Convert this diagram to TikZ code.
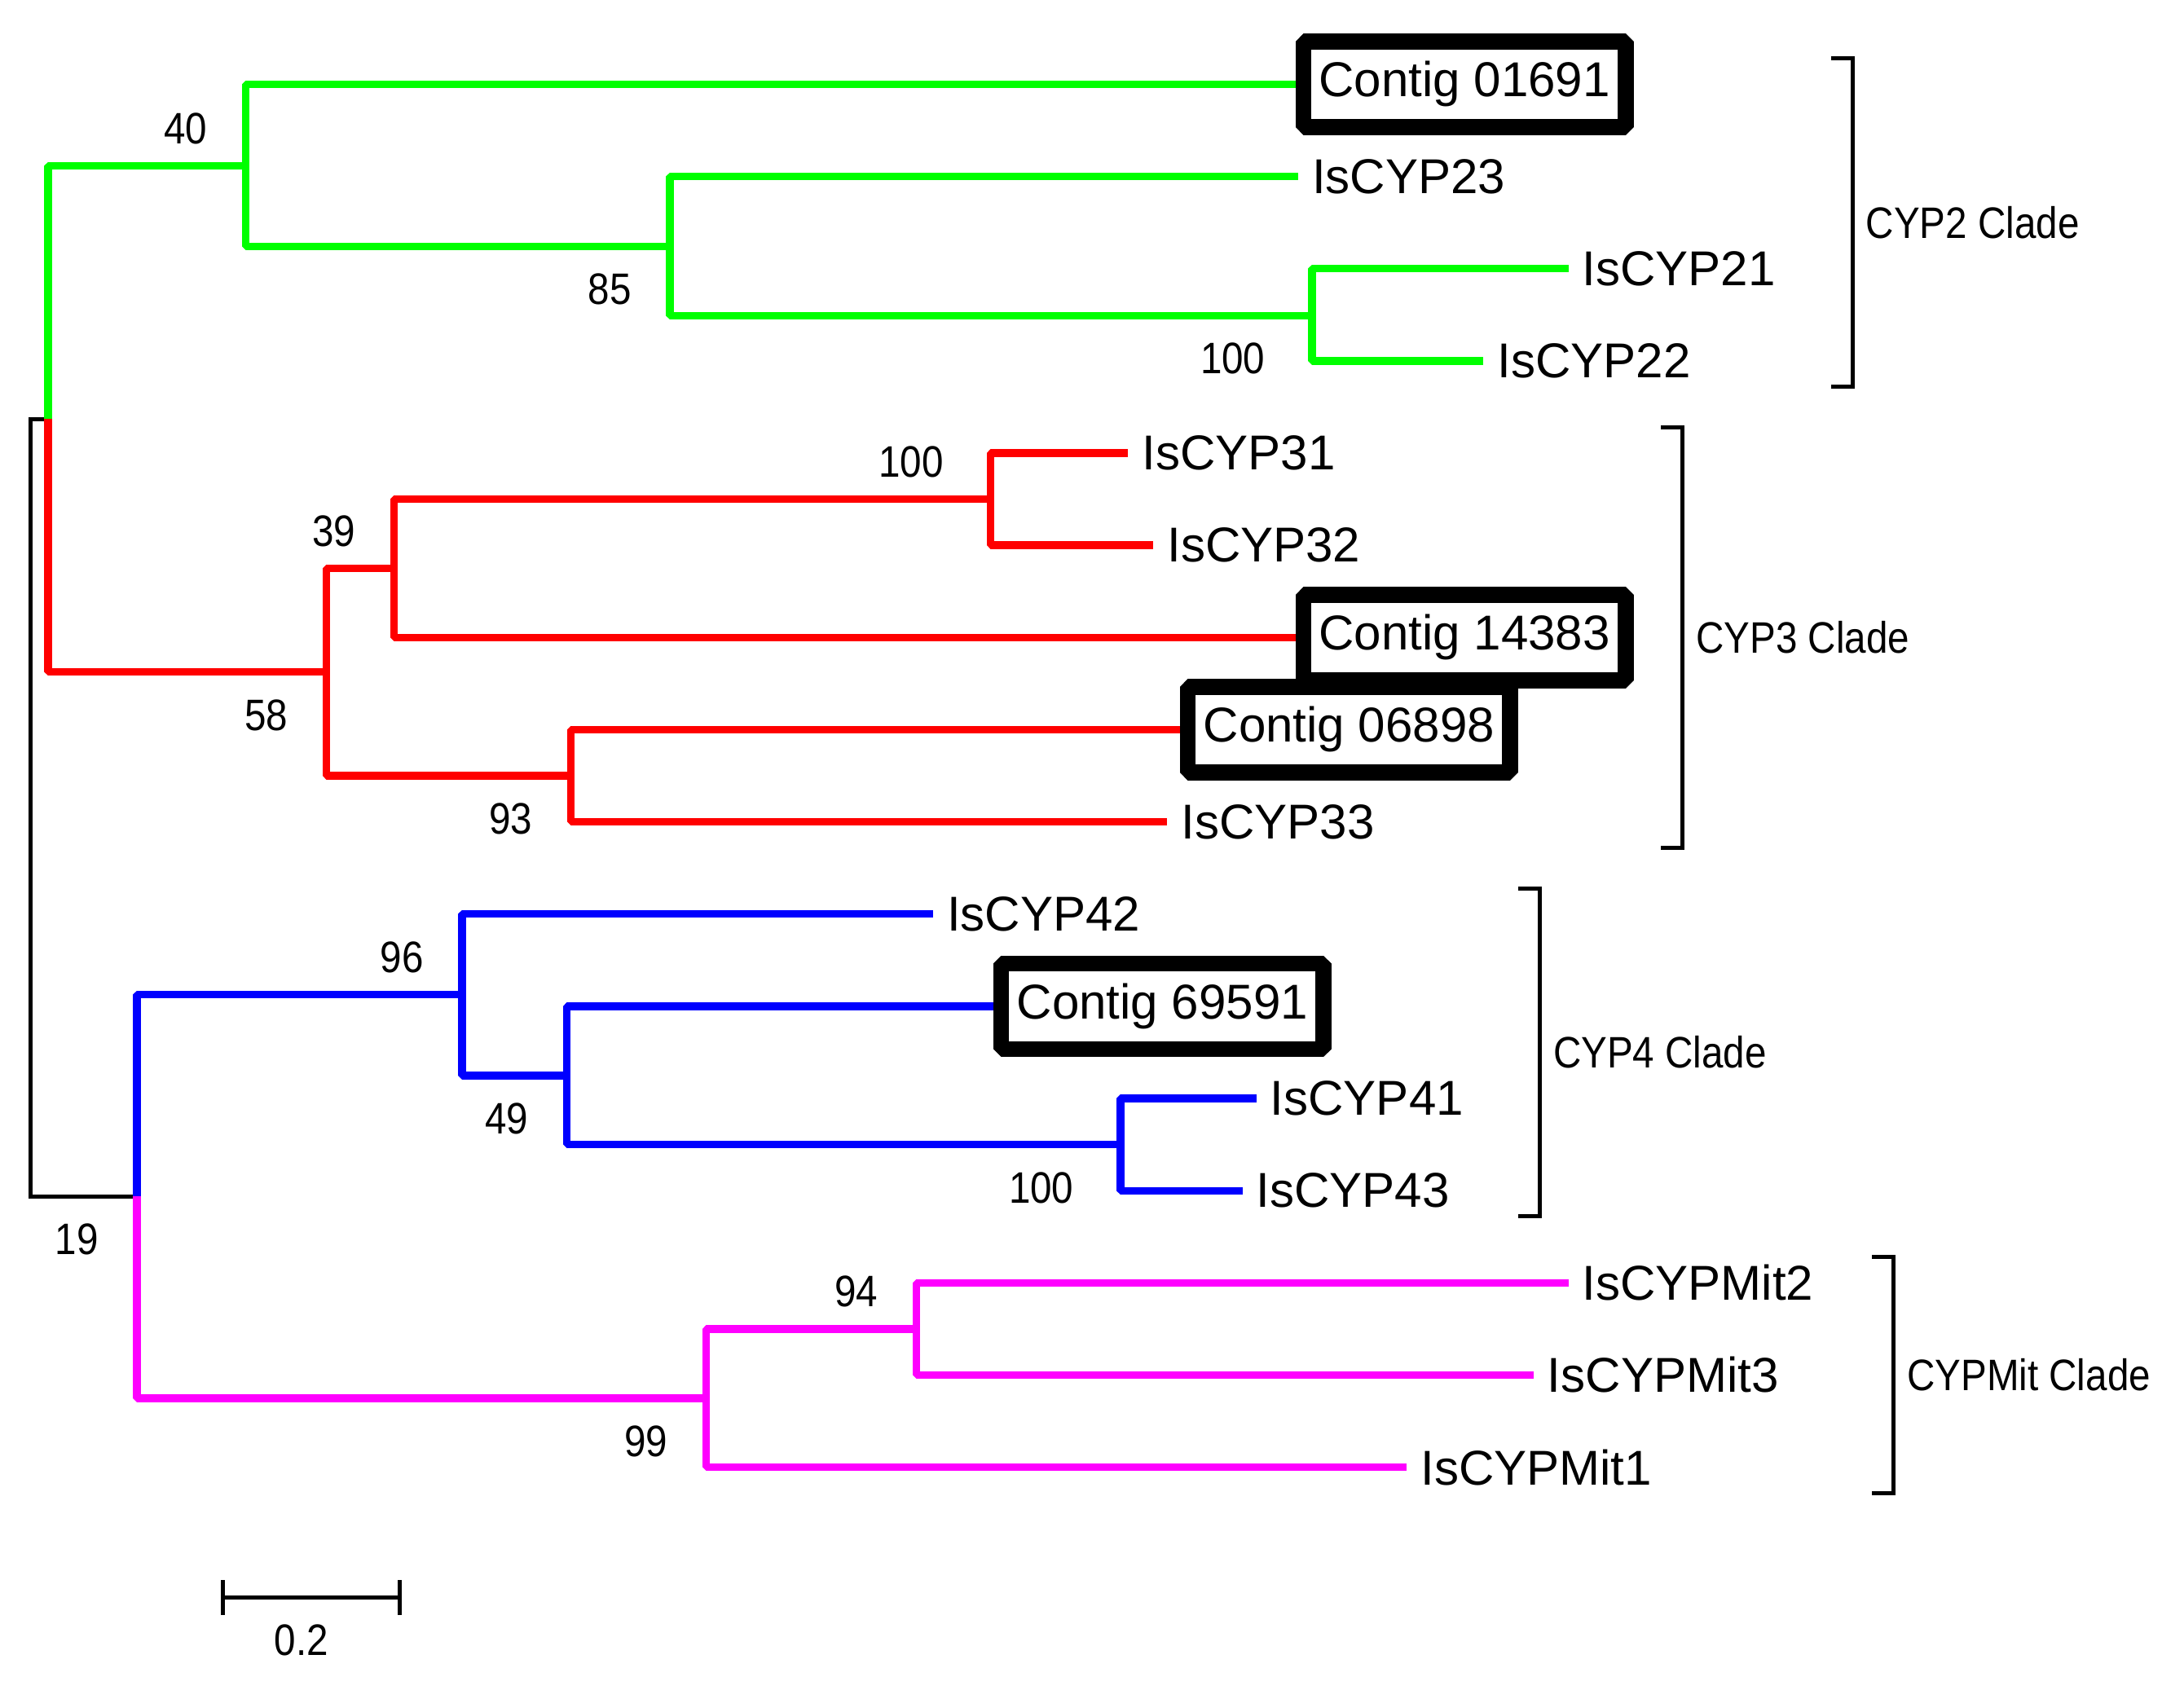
\documentclass[tikz,border=0pt]{standalone}
\usepackage{fontspec}
\setmainfont{Liberation Sans}
\newfontfamily\narrowfont{Liberation Sans}[FakeStretch=0.88]
\definecolor{CladeTwo}{RGB}{0,255,0}
\definecolor{CladeThree}{RGB}{255,0,0}
\definecolor{CladeFour}{RGB}{0,0,255}
\definecolor{CladeMit}{RGB}{255,0,255}
\newcommand{\Unit}{0.1mm}
% name/text/end of branch/row/style
\def\Leaves{Contig01691/Contig 01691/930/0/ContigBox, IsCYP23/IsCYP23/932/1/LeafLabel,
	IsCYP21/IsCYP21/1126/2/LeafLabel, IsCYP22/IsCYP22/1065/3/LeafLabel,
	IsCYP31/IsCYP31/810/4/LeafLabel, IsCYP32/IsCYP32/828/5/LeafLabel,
	Contig14383/Contig 14383/930/6/ContigBox, Contig06898/Contig 06898/847/7/ContigBox,
	IsCYP33/IsCYP33/838/8/LeafLabel, IsCYP42/IsCYP42/670/9/LeafLabel,
	Contig69591/Contig 69591/713/10/ContigBox, IsCYP41/IsCYP41/902/11/LeafLabel,
	IsCYP43/IsCYP43/892/12/LeafLabel, IsCYPMit2/IsCYPMit2/1126/13/LeafLabel,
	IsCYPMit3/IsCYPMit3/1101/14/LeafLabel, IsCYPMit1/IsCYPMit1/1010/15/LeafLabel}
\def\Clades{cyp2clade/CYP2 Clade/1330/0/3, cyp3clade/CYP3 Clade/1208/4/8,
	cyp4clade/CYP4 Clade/1105.5/9/12, mitclade/CYPMit Clade/1359.5/13/15}
\def\Support{cyp2a/40/BsUp/0, cyp2b/85/BsDown/0, cyp2c/100/BsDown/-6,
	cyp3b/100/BsUp/-6, cyp3a/39/BsUp/0, cyp3/58/BsDown/0, cyp3c/93/BsDown/0,
	cyp4/96/BsUp/0, cyp4a/49/BsDown/0, cyp4b/100/BsDown/-6,
	bottom/19/BsDown/0, mita/94/BsUp/0, mit/99/BsDown/0}
\tikzset{
	Branch/.style={line width=0.55mm, line join=bevel},
	ThinLine/.style={line width=0.3mm, draw=black},
	LeafLabel/.style={
		anchor=west,
		inner xsep=1mm,
		inner ysep=0pt,
		outer sep=0pt,
		font=\fontsize{10}{12}\selectfont,
	},
	ContigBox/.style={
		anchor=west,
		draw=black,
		line width=1.15mm,
		line join=bevel,
		inner sep=0pt,
		outer sep=0.575mm,
		minimum width=23.15mm,
		minimum height=6.15mm,
		font=\fontsize{10}{12}\selectfont,
	},
	BsUp/.style={anchor=south east, inner sep=0pt, xshift=-2.7mm, yshift=1.5mm,
		font=\narrowfont\fontsize{9}{10}\selectfont},
	BsDown/.style={anchor=north east, inner sep=0pt, xshift=-2.7mm, yshift=-1.9mm,
		font=\narrowfont\fontsize{9}{10}\selectfont},
	CladeLabel/.style={anchor=west, inner xsep=0.9mm, inner ysep=0pt,
		font=\narrowfont\fontsize{9}{10}\selectfont},
}

\begin{document}
\begin{tikzpicture}[x=\Unit, y=-\Unit]
	\useasboundingbox (0,0) rectangle (1568,1213);
	% inner nodes of the tree
	\coordinate (root) at (22,579.9);
	\coordinate (top) at (34.6,300.8);
	\coordinate (cyp2a) at (176.4,119);
	\coordinate (cyp2b) at (481,177);
	\coordinate (cyp2c) at (942,226.6);
	\coordinate (cyp3) at (234.4,482.5);
	\coordinate (cyp3a) at (283,408);
	\coordinate (cyp3b) at (711,358.4);
	\coordinate (cyp3c) at (409.8,557);
	\coordinate (bottom) at (98.4,859);
	\coordinate (cyp4) at (331.8,714.2);
	\coordinate (cyp4a) at (407,772.2);
	\coordinate (cyp4b) at (804.5,821.8);
	\coordinate (mit) at (507,1003.9);
	\coordinate (mita) at (658,954.2);
	% leaves
	\foreach \name/\lbl/\xend/\row/\kind in \Leaves {%
		\node[\kind] (\name) at (\xend,{60.5+66.2*\row}) {\lbl};
	}
	% branches
	\foreach \from/\to in {root/top, root/bottom}
		\draw[ThinLine] (\from) |- (\to);
	\foreach \from/\to in {top/cyp2a, cyp2a/Contig01691, cyp2a/cyp2b, cyp2b/IsCYP23,
		cyp2b/cyp2c, cyp2c/IsCYP21, cyp2c/IsCYP22}
		\draw[Branch, CladeTwo] (\from) |- (\to);
	\foreach \from/\to in {top/cyp3, cyp3/cyp3a, cyp3a/cyp3b, cyp3b/IsCYP31, cyp3b/IsCYP32,
		cyp3a/Contig14383, cyp3/cyp3c, cyp3c/Contig06898, cyp3c/IsCYP33}
		\draw[Branch, CladeThree] (\from) |- (\to);
	\foreach \from/\to in {bottom/cyp4, cyp4/IsCYP42, cyp4/cyp4a, cyp4a/Contig69591,
		cyp4a/cyp4b, cyp4b/IsCYP41, cyp4b/IsCYP43}
		\draw[Branch, CladeFour] (\from) |- (\to);
	\foreach \from/\to in {bottom/mit, mit/mita, mita/IsCYPMit2, mita/IsCYPMit3, mit/IsCYPMit1}
		\draw[Branch, CladeMit] (\from) |- (\to);
	% bootstrap values
	\foreach \at/\val/\kind/\dx in \Support {%
		\node[\kind, xshift={\dx*0.1mm}] (bs\at) at (\at) {\val};
	}
	% clade brackets
	\foreach \name/\lbl/\bx/\first/\last in \Clades {%
		\draw[ThinLine] ({\bx-15.5},{42+66.2*\first}) -- (\bx,{42+66.2*\first})
			-- (\bx,{79+66.2*\last}) -- ({\bx-15.5},{79+66.2*\last});
		\node[CladeLabel] (\name) at (\bx,{60.5+33.1*(\first+\last)}) {\lbl};
	}
	% scale bar
	\coordinate (barL) at (160,1147);
	\coordinate (barR) at (287,1147);
	\draw[ThinLine] (barL) -- (barR)
		([yshift=1.25mm]barL) -- ([yshift=-1.25mm]barL)
		([yshift=1.25mm]barR) -- ([yshift=-1.25mm]barR);
	\node[inner sep=0pt, font=\narrowfont\fontsize{9}{10}\selectfont] (barlabel) at (216.4,1177.6) {0.2};
\end{tikzpicture}
\end{document}
